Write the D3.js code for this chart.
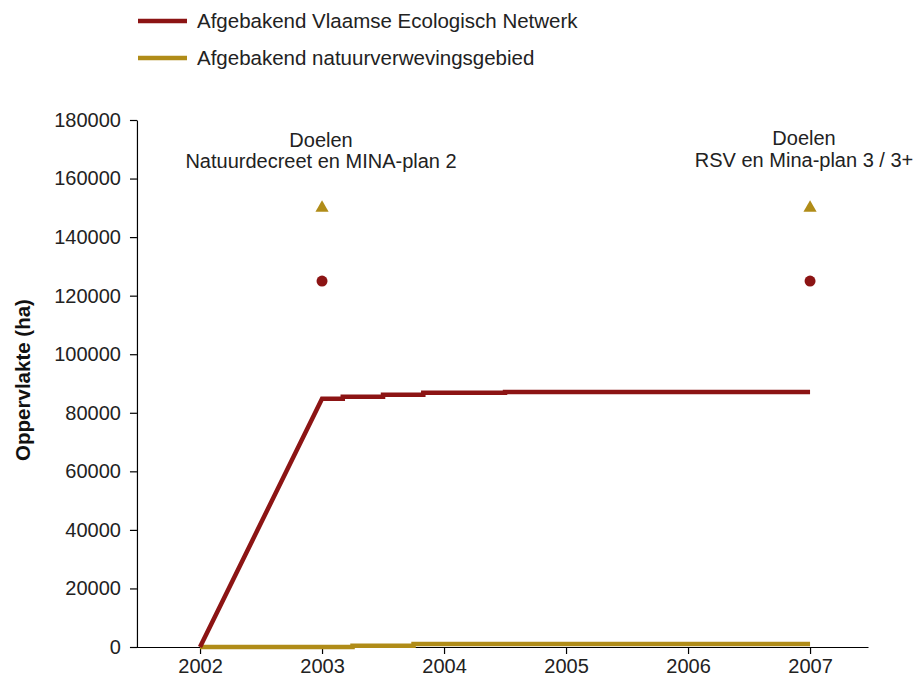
<!DOCTYPE html>
<html>
<head>
<meta charset="utf-8">
<script src="https://cdn.jsdelivr.net/npm/d3@7"></script>
<style>
  body { margin: 0; background: #fff; }
  svg { display: block; font-family: "Liberation Sans", Arial, sans-serif; }
</style>
</head>
<body>
<svg id="chart" width="917" height="686"></svg>
<script>
// ---- data ----
const years = [2002, 2003, 2004, 2005, 2006, 2007];
const yTicks = [0, 20000, 40000, 60000, 80000, 100000, 120000, 140000, 160000, 180000];

const seriesNames = ["Afgebakend Vlaamse Ecologisch Netwerk", "Afgebakend natuurverwevingsgebied"];
const seriesColors = ["#8C1414", "#B08C18"];

// VEN (red): time (fractional year) and area in ha
const venTime  = [2002, 2003,  2003.17, 2003.17, 2003.5, 2003.5, 2003.83, 2003.83, 2004.5, 2004.5, 2007];
const venValue = [0,    84800, 84800,   85500,   85500,  86200,  86200,   86800,   86800,  87100,  87100];

// Natuurverwevingsgebied (gold)
const nvgTime  = [2002, 2003.25, 2003.25, 2003.75, 2003.75, 2007];
const nvgValue = [0,    0,       450,     450,     1000,    1000];

// Targets
const targetYears = [2003, 2007];
const venTarget = [125000, 125000];
const nvgTarget = [150000, 150000];
const targetLabels = [
  ["Doelen", "Natuurdecreet en MINA-plan 2"],
  ["Doelen", "RSV en Mina-plan 3 / 3+"]
];
const yTitle = "Oppervlakte (ha)";

// ---- layout ----
const svg = d3.select("#chart");
const x = d3.scaleLinear().domain([2001.426, 2007.475]).range([130, 868]);
const y = d3.scaleLinear().domain([0, 180000]).range([647, 120]);
const axisX0 = x(2001.483);
const textColor = "#222";

// x axis
const gx = svg.append("g").attr("transform", `translate(0,${y(0)})`)
  .call(d3.axisBottom(x).tickValues(years).tickFormat(d3.format("d")).tickSize(7).tickSizeOuter(0).tickPadding(5));
gx.selectAll("text").attr("font-size", 20).attr("fill", textColor).attr("font-family", "Liberation Sans, Arial, sans-serif");
gx.selectAll("line, path").attr("stroke", "#000").attr("stroke-width", 1.2);

// y axis
const gy = svg.append("g").attr("transform", `translate(${axisX0},0)`)
  .call(d3.axisLeft(y).tickValues(yTicks).tickFormat(d3.format("d")).tickSize(7).tickSizeOuter(0).tickPadding(9));
gy.selectAll("text").attr("font-size", 20).attr("fill", textColor).attr("font-family", "Liberation Sans, Arial, sans-serif");
gy.selectAll("line, path").attr("stroke", "#000").attr("stroke-width", 1.2);

// y title
svg.append("text")
  .attr("transform", `translate(30,380) rotate(-90)`)
  .attr("text-anchor", "middle")
  .attr("font-size", 20.5).attr("font-weight", "bold").attr("fill", "#111")
  .text(yTitle);

// lines
const line = d3.line().x(d => x(d[0])).y(d => y(d[1]));
const nvgData = nvgTime.map((t, i) => [t, nvgValue[i]]);
const venData = venTime.map((t, i) => [t, venValue[i]]);
svg.append("path").datum(nvgData).attr("d", line)
  .attr("fill", "none").attr("stroke", seriesColors[1]).attr("stroke-width", 4.5);
svg.append("path").datum(venData).attr("d", line)
  .attr("fill", "none").attr("stroke", seriesColors[0]).attr("stroke-width", 4.5);

// target markers
svg.selectAll(".venT").data(targetYears).enter().append("circle")
  .attr("cx", d => x(d)).attr("cy", (d, i) => y(venTarget[i])).attr("r", 5.5)
  .attr("fill", seriesColors[0]);
svg.selectAll(".nvgT").data(targetYears).enter().append("path")
  .attr("transform", (d, i) => `translate(${x(d)},${y(nvgTarget[i])})`)
  .attr("d", d3.symbol().type(d3.symbolTriangle).size(75))
  .attr("fill", seriesColors[1]);

// target annotations
const labelCenters = [x(2003) - 1, x(2007) - 6];
const labelBase = [[147, 168], [145, 167]];
targetLabels.forEach((lines, i) => {
  lines.forEach((s, j) => {
    svg.append("text")
      .attr("x", labelCenters[i]).attr("y", labelBase[i][j])
      .attr("text-anchor", "middle").attr("font-size", 20).attr("fill", textColor)
      .text(s);
  });
});

// legend
const legendY = [21, 58];
seriesNames.forEach((name, i) => {
  svg.append("line").attr("x1", 138).attr("x2", 187).attr("y1", legendY[i]).attr("y2", legendY[i])
    .attr("stroke", seriesColors[i]).attr("stroke-width", 4.5);
  svg.append("text").attr("x", 197).attr("y", legendY[i] + 7)
    .attr("font-size", 20.5).attr("fill", textColor).text(name);
});
</script>
</body>
</html>
